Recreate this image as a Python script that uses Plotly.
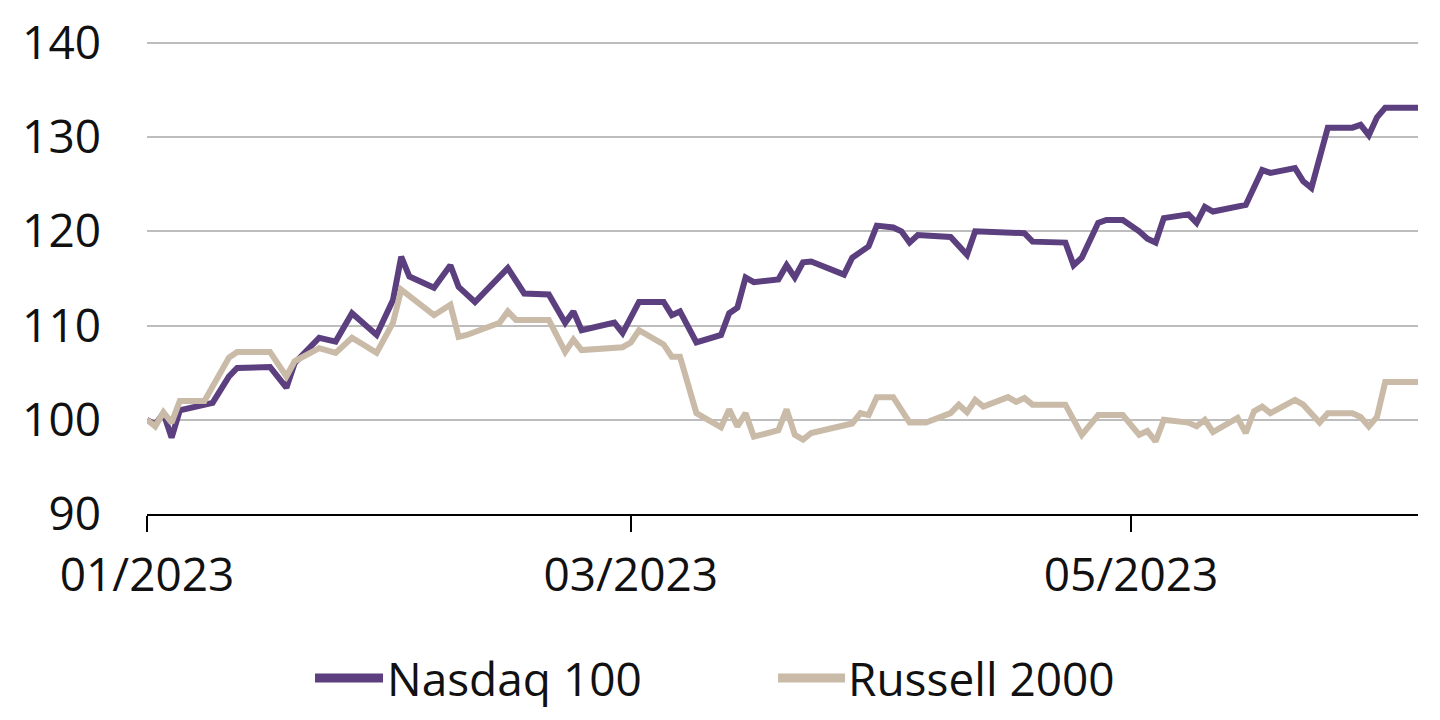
import plotly.graph_objects as go

# ---- data (index, 01/2023 = 100) ----
nasdaq_dates = [
    "2023-01-01", "2023-01-02", "2023-01-03", "2023-01-04", "2023-01-05", "2023-01-09",
    "2023-01-11", "2023-01-12", "2023-01-16", "2023-01-18", "2023-01-19", "2023-01-22",
    "2023-01-24", "2023-01-26", "2023-01-29", "2023-01-31", "2023-02-01", "2023-02-02",
    "2023-02-05", "2023-02-07", "2023-02-08", "2023-02-10", "2023-02-14", "2023-02-16",
    "2023-02-19", "2023-02-21", "2023-02-22", "2023-02-23", "2023-02-27", "2023-02-28",
    "2023-03-02", "2023-03-05", "2023-03-06", "2023-03-07", "2023-03-09", "2023-03-12",
    "2023-03-13", "2023-03-14", "2023-03-15", "2023-03-16", "2023-03-19", "2023-03-20",
    "2023-03-21", "2023-03-22", "2023-03-23", "2023-03-27", "2023-03-28", "2023-03-30",
    "2023-03-31", "2023-04-02", "2023-04-03", "2023-04-04", "2023-04-05", "2023-04-09",
    "2023-04-11", "2023-04-12", "2023-04-18", "2023-04-19", "2023-04-23", "2023-04-24",
    "2023-04-25", "2023-04-27", "2023-04-28", "2023-04-30", "2023-05-02", "2023-05-03",
    "2023-05-04", "2023-05-05", "2023-05-08", "2023-05-09", "2023-05-10", "2023-05-11",
    "2023-05-15", "2023-05-17", "2023-05-18", "2023-05-21", "2023-05-22", "2023-05-23",
    "2023-05-25", "2023-05-28", "2023-05-29", "2023-05-30", "2023-05-31", "2023-06-01",
    "2023-06-05",
]
nasdaq_values = [
    100.0, 99.5, 100.7, 98.1, 101.0, 101.8,
    104.6, 105.5, 105.6, 103.4, 106.0, 108.7,
    108.3, 111.3, 109.0, 112.7, 117.3, 115.2,
    114.0, 116.4, 114.1, 112.5, 116.1, 113.4,
    113.3, 110.3, 111.5, 109.5, 110.3, 109.2,
    112.5, 112.5, 111.1, 111.5, 108.2, 109.0,
    111.3, 111.9, 115.1, 114.6, 114.9, 116.4,
    115.1, 116.7, 116.8, 115.4, 117.2, 118.4,
    120.6, 120.4, 120.0, 118.8, 119.6, 119.4,
    117.5, 120.0, 119.8, 118.9, 118.8, 116.4,
    117.2, 120.9, 121.2, 121.2, 120.0, 119.2,
    118.8, 121.4, 121.8, 120.9, 122.6, 122.1,
    122.8, 126.5, 126.2, 126.7, 125.3, 124.6,
    131.0, 131.0, 131.3, 130.2, 132.1, 133.1,
    133.1,
]

russell_dates = [
    "2023-01-01", "2023-01-02", "2023-01-03", "2023-01-04", "2023-01-05", "2023-01-08",
    "2023-01-11", "2023-01-12", "2023-01-16", "2023-01-18", "2023-01-19", "2023-01-22",
    "2023-01-24", "2023-01-26", "2023-01-29", "2023-01-31", "2023-02-01", "2023-02-05",
    "2023-02-07", "2023-02-08", "2023-02-09", "2023-02-13", "2023-02-14", "2023-02-15",
    "2023-02-19", "2023-02-21", "2023-02-22", "2023-02-23", "2023-02-28", "2023-03-01",
    "2023-03-02", "2023-03-05", "2023-03-06", "2023-03-07", "2023-03-09", "2023-03-12",
    "2023-03-13", "2023-03-14", "2023-03-15", "2023-03-16", "2023-03-19", "2023-03-20",
    "2023-03-21", "2023-03-22", "2023-03-23", "2023-03-27", "2023-03-28", "2023-03-29",
    "2023-03-30", "2023-03-31", "2023-04-02", "2023-04-04", "2023-04-06", "2023-04-09",
    "2023-04-10", "2023-04-11", "2023-04-12", "2023-04-13", "2023-04-16", "2023-04-17",
    "2023-04-18", "2023-04-19", "2023-04-23", "2023-04-25", "2023-04-27", "2023-04-30",
    "2023-05-02", "2023-05-03", "2023-05-04", "2023-05-05", "2023-05-08", "2023-05-09",
    "2023-05-10", "2023-05-11", "2023-05-14", "2023-05-15", "2023-05-16", "2023-05-17",
    "2023-05-18", "2023-05-21", "2023-05-22", "2023-05-24", "2023-05-25", "2023-05-28",
    "2023-05-29", "2023-05-30", "2023-05-31", "2023-06-01", "2023-06-05",
]
russell_values = [
    100.0, 99.3, 100.8, 99.7, 102.0, 102.0,
    106.6, 107.2, 107.2, 104.6, 106.2, 107.6,
    107.1, 108.7, 107.1, 110.3, 113.8, 111.1,
    112.2, 108.8, 109.0, 110.3, 111.5, 110.6,
    110.6, 107.2, 108.5, 107.4, 107.7, 108.2,
    109.5, 108.0, 106.7, 106.7, 100.7, 99.2,
    101.1, 99.3, 100.7, 98.2, 98.9, 101.1,
    98.4, 97.9, 98.6, 99.5, 99.6, 100.7,
    100.5, 102.4, 102.4, 99.7, 99.7, 100.7,
    101.6, 100.8, 102.1, 101.4, 102.4, 101.9,
    102.3, 101.6, 101.6, 98.4, 100.5, 100.5,
    98.4, 98.8, 97.7, 100.0, 99.7, 99.3,
    100.0, 98.7, 100.2, 98.6, 100.9, 101.4,
    100.7, 102.1, 101.6, 99.7, 100.7, 100.7,
    100.3, 99.3, 100.3, 104.0, 104.0,
]

series_names = ["Nasdaq 100", "Russell 2000"]
series_colors = ["#5B3F7E", "#C9BBA8"]

y_tick_values = [90, 100, 110, 120, 130, 140]
y_range = [90, 140.3]
x_tick_values = ["2023-01-01", "2023-03-01", "2023-05-01"]
x_tick_labels = ["01/2023", "03/2023", "05/2023"]
x_range = ["2023-01-01", "2023-06-05"]

TICK_FONT = dict(family="Open Sans, Noto Sans, sans-serif", size=46, color="#111111")
LEGEND_FONT = dict(family="Open Sans, Noto Sans, sans-serif", size=46, color="#111111")

fig = go.Figure()
for name, xs, ys, col in [
    (series_names[0], nasdaq_dates, nasdaq_values, series_colors[0]),
    (series_names[1], russell_dates, russell_values, series_colors[1]),
]:
    fig.add_trace(go.Scatter(
        x=xs, y=ys, name=name, mode="lines",
        line=dict(color=col, width=6),
        showlegend=False,
    ))

# custom legend (line sample + label) below the plot
legend_items = [
    (series_names[0], series_colors[0], 0.1322, 0.1857, 0.1873),
    (series_names[1], series_colors[1], 0.4965, 0.5492, 0.5500),
]
LEG_Y = -0.346
for name, col, x0, x1, xt in legend_items:
    fig.add_shape(type="line", xref="paper", yref="paper",
                  x0=x0, x1=x1, y0=LEG_Y, y1=LEG_Y,
                  line=dict(color=col, width=9))
    fig.add_annotation(xref="paper", yref="paper", x=xt, y=LEG_Y,
                       text=name, showarrow=False, xanchor="left", yanchor="middle",
                       font=LEGEND_FONT)

fig.update_layout(
    width=1440, height=720,
    margin=dict(l=139, r=30, t=32, b=214),
    paper_bgcolor="white", plot_bgcolor="white",
    xaxis=dict(
        type="date", range=x_range, automargin=False,
        tickvals=x_tick_values, ticktext=x_tick_labels,
        ticks="outside", ticklen=16, tickwidth=2, tickcolor="#000000",
        showline=True, linecolor="#000000", linewidth=2,
        showgrid=False, zeroline=False,
        tickfont=TICK_FONT, ticklabelstandoff=4,
    ),
    yaxis=dict(
        range=y_range, tickvals=y_tick_values, automargin=False,
        showgrid=True, gridcolor="#BDBDBD", gridwidth=2,
        zeroline=False, showline=False, ticks="",
        tickfont=TICK_FONT, ticklabelstandoff=45,
    ),
)

fig.write_html("out.html")
